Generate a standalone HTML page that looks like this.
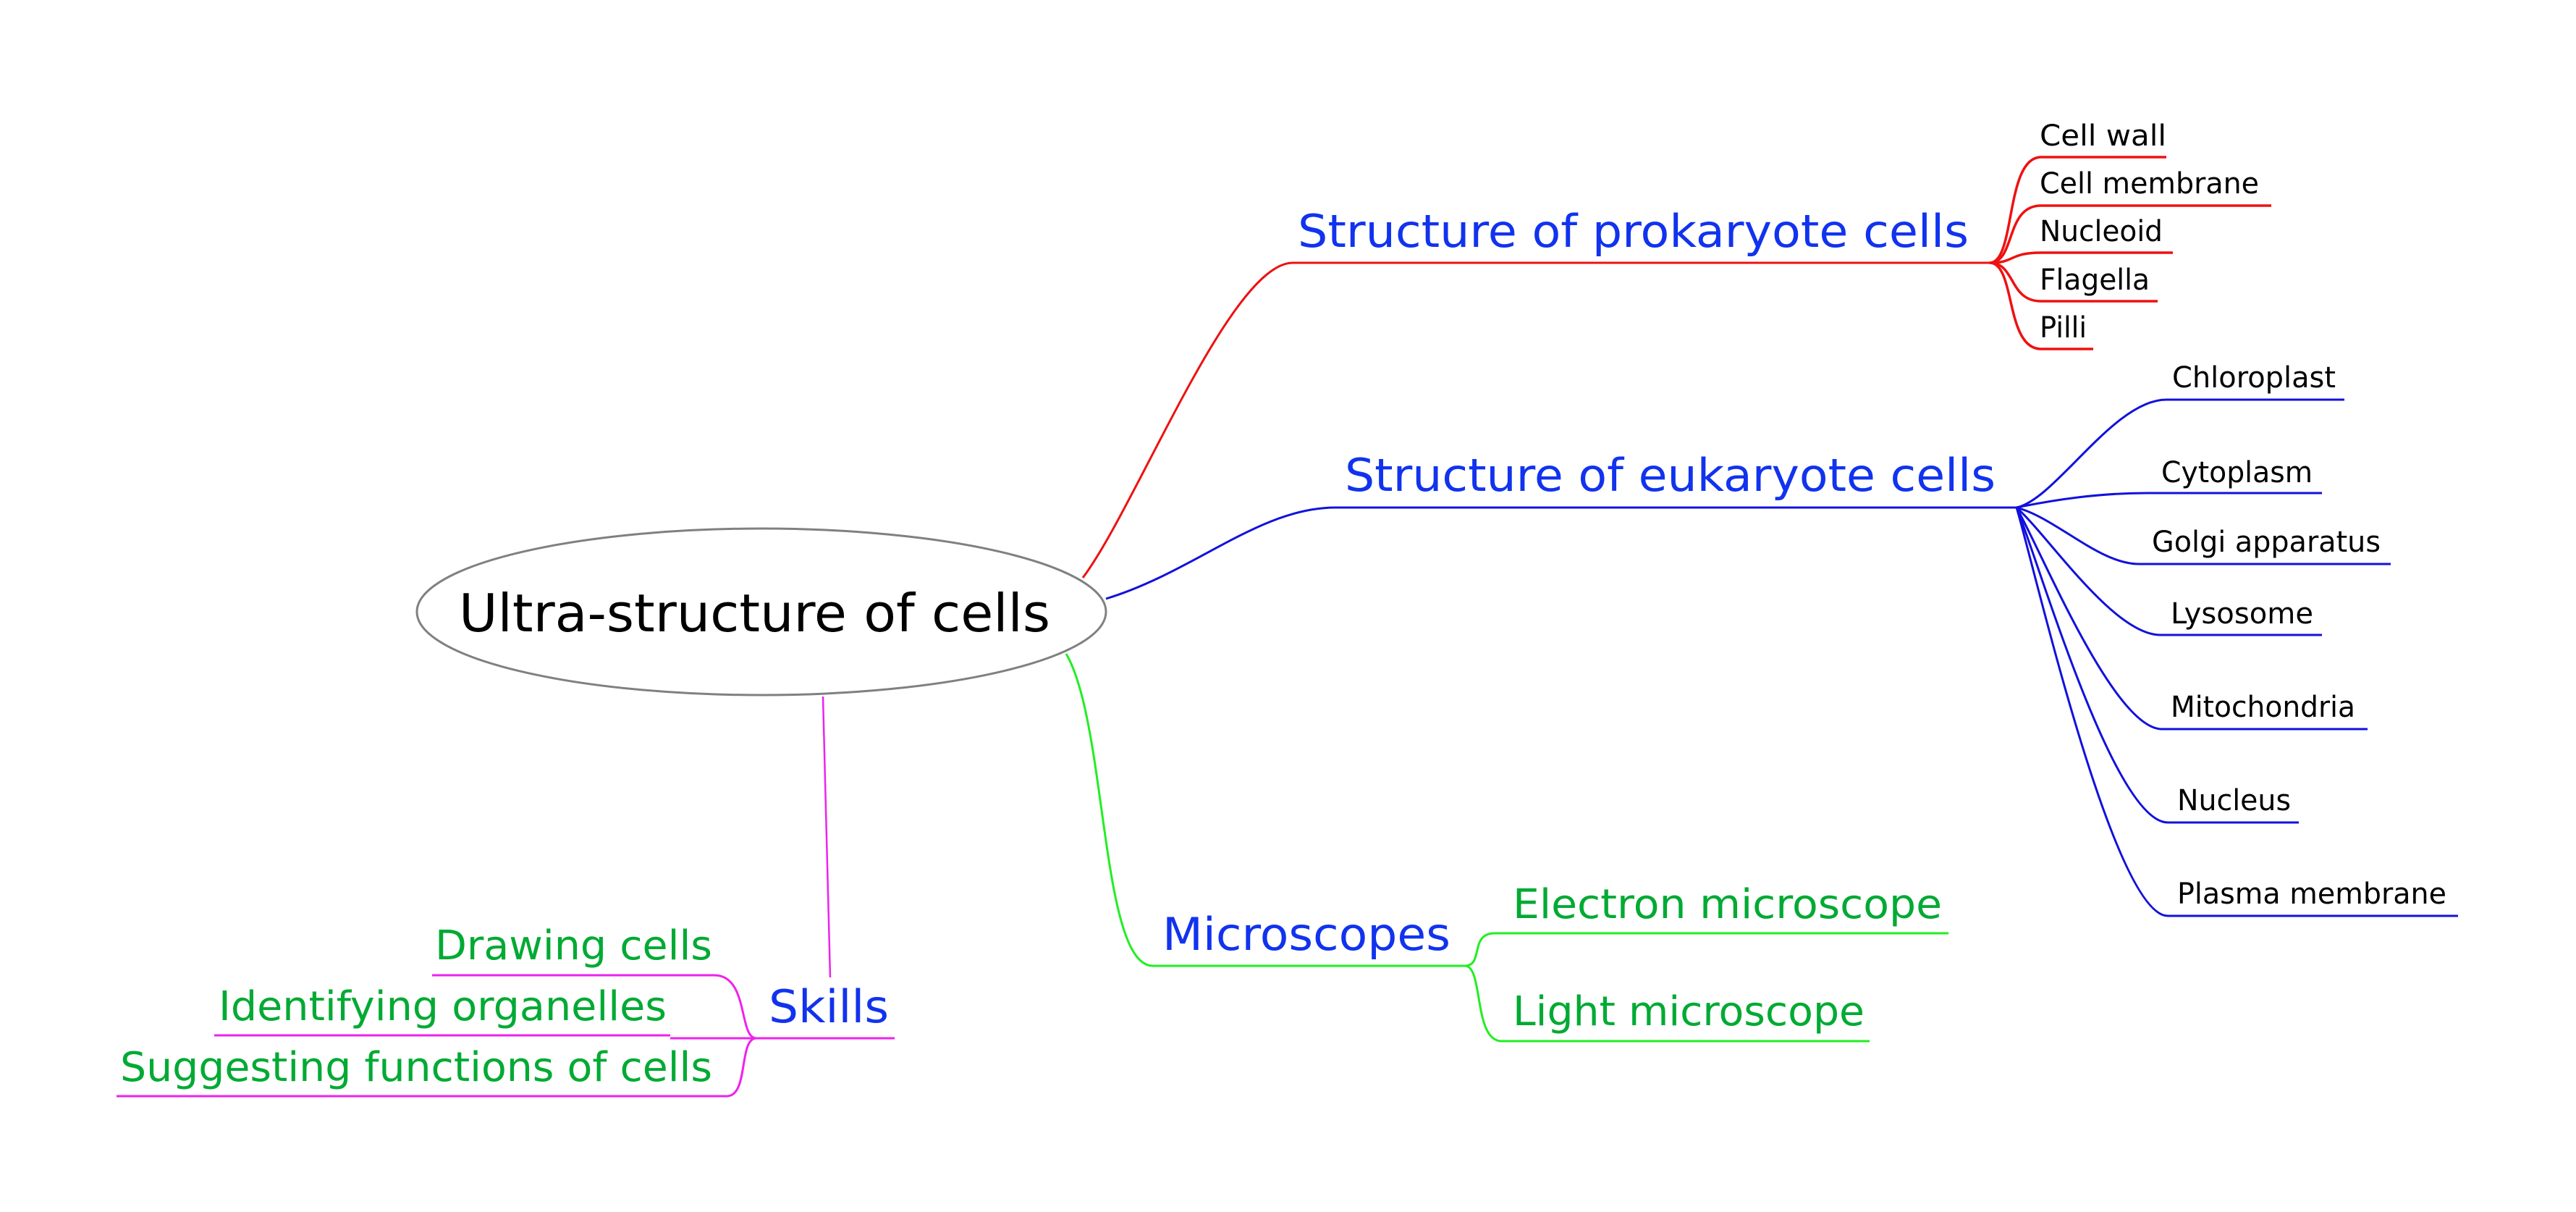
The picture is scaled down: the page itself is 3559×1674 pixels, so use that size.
<!DOCTYPE html>
<html><head><meta charset="utf-8"><style>
html,body{margin:0;padding:0;background:#fff;}
svg{display:block;}
text{font-family:"DejaVu Sans","Liberation Sans",sans-serif;}
</style></head><body>
<svg width="3559" height="1674" viewBox="0 0 3559 1674" xmlns="http://www.w3.org/2000/svg">
<g fill="none" stroke-width="3">
<!-- red -->
<path d="M1496,798 C1570,700 1700,363 1786,363 L2749,363" stroke="#ee1111"/>
<g stroke="#ee1111" stroke-width="3.5">
<path d="M2749,363 C2785,363 2770,217 2820,217 L2993,217"/>
<path d="M2749,363 C2785,363 2770,284 2820,284 L3138,284"/>
<path d="M2749,363 C2785,363 2775,349 2820,349 L3002,349"/>
<path d="M2749,363 C2785,363 2775,416 2820,416 L2981,416"/>
<path d="M2749,363 C2785,363 2770,482 2820,482 L2892,482"/>
</g>
<!-- blue -->
<path d="M1528,827 C1650,790 1740,701 1845,701 L2786,701" stroke="#1111dd"/>
<g stroke="#1111dd">
<path d="M2786,701 C2840,690 2920,552 2993,552 L3239,552"/>
<path d="M2786,701 C2840,690 2900,681 2966,681 L3208,681"/>
<path d="M2786,701 C2840,715 2900,779 2955,779 L3303,779"/>
<path d="M2786,701 C2830,740 2920,877 2985,877 L3208,877"/>
<path d="M2786,701 C2820,760 2920,1007 2987,1007 L3271,1007"/>
<path d="M2786,701 C2815,770 2920,1136 2995,1136 L3176,1136"/>
<path d="M2786,701 C2810,780 2920,1265 2995,1265 L3396,1265"/>
</g>
<!-- green -->
<path d="M1473,903 C1530,1000 1520,1334 1593,1334 L2024,1334" stroke="#22ee22"/>
<path d="M2024,1334 C2050,1334 2030,1289 2065,1289 L2692,1289" stroke="#22ee22"/>
<path d="M2024,1334 C2050,1334 2035,1438 2075,1438 L2583,1438" stroke="#22ee22"/>
<!-- magenta -->
<path d="M1137,962 L1147,1350" stroke="#ee22ee" stroke-width="2.5"/>
<path d="M926,1434 L1236,1434" stroke="#ee22ee"/>
<path d="M296,1430 L926,1430" stroke="#ee22ee"/>
<path d="M597,1347 L987,1347 C1035,1347 1020,1434 1045,1434" stroke="#ee22ee"/>
<path d="M161,1514 L1004,1514 C1035,1514 1020,1434 1045,1434" stroke="#ee22ee"/>
</g>
<ellipse cx="1052" cy="845" rx="476" ry="115" fill="#fff" stroke="#808080" stroke-width="3"/>
<text x="634" y="872" font-size="72" fill="#000" textLength="817" lengthAdjust="spacingAndGlyphs">Ultra-structure of cells</text>
<g fill="#1133ee" font-size="62">
<text x="1793" y="341" textLength="927" lengthAdjust="spacingAndGlyphs">Structure of prokaryote cells</text>
<text x="1858" y="678" textLength="899" lengthAdjust="spacingAndGlyphs">Structure of eukaryote cells</text>
<text x="1606" y="1312" textLength="398" lengthAdjust="spacingAndGlyphs">Microscopes</text>
<text x="1062" y="1412" textLength="166" lengthAdjust="spacingAndGlyphs">Skills</text>
</g>
<g fill="#000" font-size="40">
<text x="2818" y="201" textLength="175" lengthAdjust="spacingAndGlyphs">Cell wall</text>
<text x="2818" y="267" textLength="303" lengthAdjust="spacingAndGlyphs">Cell membrane</text>
<text x="2818" y="333" textLength="170" lengthAdjust="spacingAndGlyphs">Nucleoid</text>
<text x="2818" y="400" textLength="152" lengthAdjust="spacingAndGlyphs">Flagella</text>
<text x="2818" y="466" textLength="65" lengthAdjust="spacingAndGlyphs">Pilli</text>
<text x="3001" y="535" textLength="226" lengthAdjust="spacingAndGlyphs">Chloroplast</text>
<text x="2986" y="666" textLength="209" lengthAdjust="spacingAndGlyphs">Cytoplasm</text>
<text x="2973" y="762" textLength="316" lengthAdjust="spacingAndGlyphs">Golgi apparatus</text>
<text x="2999" y="861" textLength="197" lengthAdjust="spacingAndGlyphs">Lysosome</text>
<text x="2999" y="990" textLength="255" lengthAdjust="spacingAndGlyphs">Mitochondria</text>
<text x="3008" y="1119" textLength="157" lengthAdjust="spacingAndGlyphs">Nucleus</text>
<text x="3008" y="1248" textLength="372" lengthAdjust="spacingAndGlyphs">Plasma membrane</text>
</g>
<g fill="#00aa33" font-size="56">
<text x="2090" y="1268" textLength="593" lengthAdjust="spacingAndGlyphs">Electron microscope</text>
<text x="2090" y="1416" textLength="486" lengthAdjust="spacingAndGlyphs">Light microscope</text>
<text x="601" y="1325" textLength="383" lengthAdjust="spacingAndGlyphs">Drawing cells</text>
<text x="302" y="1409" textLength="619" lengthAdjust="spacingAndGlyphs">Identifying organelles</text>
<text x="166" y="1493" textLength="818" lengthAdjust="spacingAndGlyphs">Suggesting functions of cells</text>
</g>
</svg>
</body></html>
